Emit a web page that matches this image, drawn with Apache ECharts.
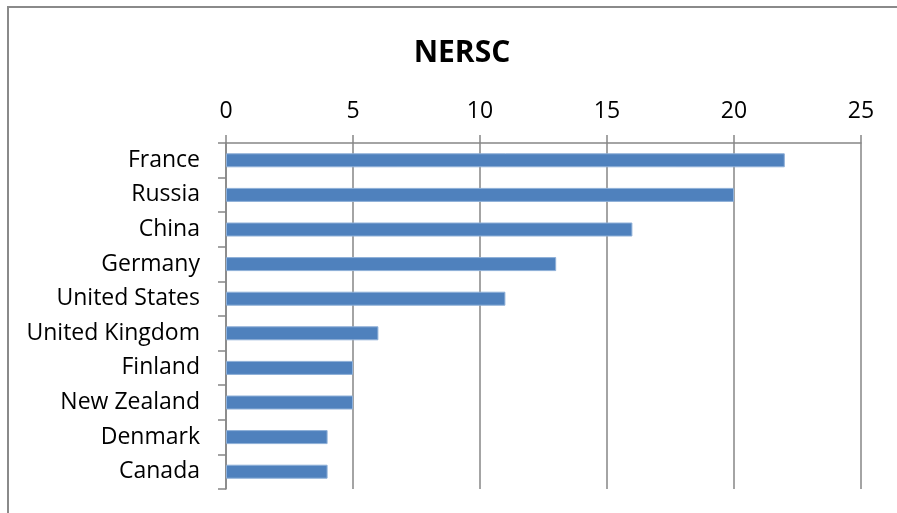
<!DOCTYPE html>
<html><head><meta charset="utf-8">
<script src="https://cdn.jsdelivr.net/npm/echarts@6/dist/echarts.min.js"></script>
<style>html,body{margin:0;padding:0;background:#fff;}#c{width:897px;height:513px;}</style>
</head><body><div id="c"></div>
<script>
const categories = ["France","Russia","China","Germany","United States","United Kingdom","Finland","New Zealand","Denmark","Canada"];
const values = [22,20,16,13,11,6,5,5,4,4];
const xTicks = [0,5,10,15,20,25];
const chart = echarts.init(document.getElementById('c'));
const font = "'Open Sans', 'Noto Sans', sans-serif";
chart.setOption({
  animation:false,
  title:{text:'NERSC',left:457,top:33,textAlign:'center',textStyle:{fontFamily:font,fontWeight:'bold',fontSize:30,color:'#000'}},
  graphic:[
    {type:'line',shape:{x1:7,y1:7,x2:897,y2:7},style:{stroke:'#8a8a8a',lineWidth:2},z:-1},
    {type:'line',shape:{x1:8,y1:6,x2:8,y2:513},style:{stroke:'#8a8a8a',lineWidth:2},z:-1}
  ],
  grid:{left:226,right:36,top:143,bottom:24},
  xAxis:{type:'value',position:'top',min:xTicks[0],max:xTicks[xTicks.length-1],interval:5,
    axisLine:{show:true,lineStyle:{color:'#868686',width:1.5}},
    axisTick:{show:true,length:8,lineStyle:{color:'#868686',width:1.5}},
    splitLine:{show:true,lineStyle:{color:'#868686',width:1.5}},
    axisLabel:{margin:20,color:'#000',fontSize:23,fontFamily:font}},
  yAxis:{type:'category',inverse:true,data:categories,
    axisLine:{show:true,lineStyle:{color:'#868686',width:1.5}},
    axisTick:{show:true,length:8,lineStyle:{color:'#868686',width:1.5}},
    axisLabel:{margin:26,color:'#000',fontSize:23,fontFamily:font}},
  series:[{type:'bar',data:values,barWidth:14,itemStyle:{color:'#4F81BD',borderColor:'#8fb0d8',borderWidth:1}}]
});
</script></body></html>
